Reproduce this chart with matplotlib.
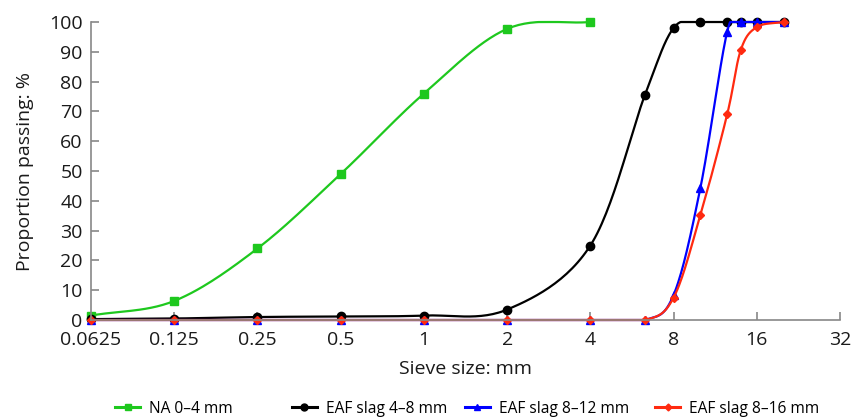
import numpy as np
import matplotlib
matplotlib.use("Agg")
import matplotlib.pyplot as plt

plt.rcParams['font.family'] = ['Open Sans', 'DejaVu Sans']

# sieve sizes [mm] and passing [%]
na_x = [0.0625, 0.125, 0.25, 0.5, 1, 2, 4]
na_y = [1.5, 6.4, 24, 49, 76, 97.7, 100]

s48_x = [0.0625, 0.125, 0.25, 0.5, 1, 2, 4, 6.3, 8, 10, 12.5, 14, 16, 20]
s48_y = [0.3, 0.5, 1.0, 1.2, 1.5, 3.5, 25, 75.5, 98, 100, 100, 100, 100, 100]

s812_x = [0.0625, 0.125, 0.25, 0.5, 1, 2, 4, 6.3, 8, 10, 12.5, 14, 16, 20]
s812_y = [0, 0, 0, 0, 0, 0, 0, 0, 8.4, 44.3, 96.7, 100, 100, 100]

s816_x = [0.0625, 0.125, 0.25, 0.5, 1, 2, 4, 6.3, 8, 10, 12.5, 14, 16, 20]
s816_y = [0, 0, 0, 0, 0, 0, 0, 0, 7.5, 35.2, 69, 90.6, 98.3, 100]

xticks = [0.0625, 0.125, 0.25, 0.5, 1, 2, 4, 8, 16, 32]
xticklabels = ['0.0625', '0.125', '0.25', '0.5', '1', '2', '4', '8', '16', '32']


def smooth(xs, ys, n=30):
    # Catmull-Rom curve in log2(x) space, like a smoothed line
    px = np.log2(xs)
    py = np.array(ys, dtype=float)
    px = np.concatenate([[2 * px[0] - px[1]], px, [2 * px[-1] - px[-2]]])
    py = np.concatenate([[2 * py[0] - py[1]], py, [2 * py[-1] - py[-2]]])
    ox, oy = [], []
    t = np.linspace(0, 1, n)
    for i in range(1, len(px) - 2):
        for p, out in ((px, ox), (py, oy)):
            p0, p1, p2, p3 = p[i - 1], p[i], p[i + 1], p[i + 2]
            out.extend(0.5 * ((2 * p1) + (-p0 + p2) * t
                              + (2 * p0 - 5 * p1 + 4 * p2 - p3) * t ** 2
                              + (-p0 + 3 * p1 - 3 * p2 + p3) * t ** 3))
    return 2 ** np.array(ox), np.clip(oy, 0, 100)


fig = plt.figure(figsize=(8.53, 4.17), dpi=100)
ax = fig.add_axes([0.1067, 0.2326, 0.8781, 0.7146])

series = [
    (na_x, na_y, '#1ec81e', 's', 6, 'NA 0–4 mm'),
    (s48_x, s48_y, 'black', 'o', 6, 'EAF slag 4–8 mm'),
    (s812_x, s812_y, '#0000ff', '^', 6, 'EAF slag 8–12 mm'),
    (s816_x, s816_y, '#ff2a10', 'D', 4.5, 'EAF slag 8–16 mm'),
]
handles = []
for xs, ys, c, m, ms, lab in series:
    sx, sy = smooth(xs, ys)
    ax.plot(sx, sy, color=c, lw=1.6, clip_on=False)
    ax.plot(xs, ys, ls='none', marker=m, ms=ms, color=c, clip_on=False)
    h, = ax.plot([], [], color=c, lw=2.2, marker=m, ms=ms - 1, label=lab)
    handles.append(h)

ax.set_xscale('log', base=2)
ax.set_xlim(0.0625, 32)
ax.set_ylim(0, 100)
ax.set_xticks(xticks)
ax.set_xticklabels(xticklabels)
ax.minorticks_off()
ax.set_yticks(range(0, 101, 10))

for s in ['top', 'right']:
    ax.spines[s].set_visible(False)
for s in ['left', 'bottom']:
    ax.spines[s].set_color('#888888')
    ax.spines[s].set_linewidth(1.2)
ax.tick_params(direction='in', length=6, color='#888888', width=1.2,
               labelsize=14, labelcolor='#1a1a1a')
ax.tick_params(axis='x', pad=8)
ax.tick_params(axis='y', pad=6)

ax.set_xlabel('Sieve size: mm', fontsize=14, color='#1a1a1a', labelpad=8)
ax.set_ylabel('Proportion passing: %', fontsize=14, color='#1a1a1a', labelpad=11)

# legend entries sit at uneven spacing in the reference
leg_x = [0.135, 0.342, 0.545, 0.768]
for h, lx in zip(handles, leg_x):
    fig.legend(handles=[h], loc='center left', bbox_to_anchor=(lx, 0.02),
               frameon=False, fontsize=11.2, handlelength=1.6,
               handletextpad=0.6, borderpad=0, borderaxespad=0)

fig.savefig('out.png', dpi=100)
